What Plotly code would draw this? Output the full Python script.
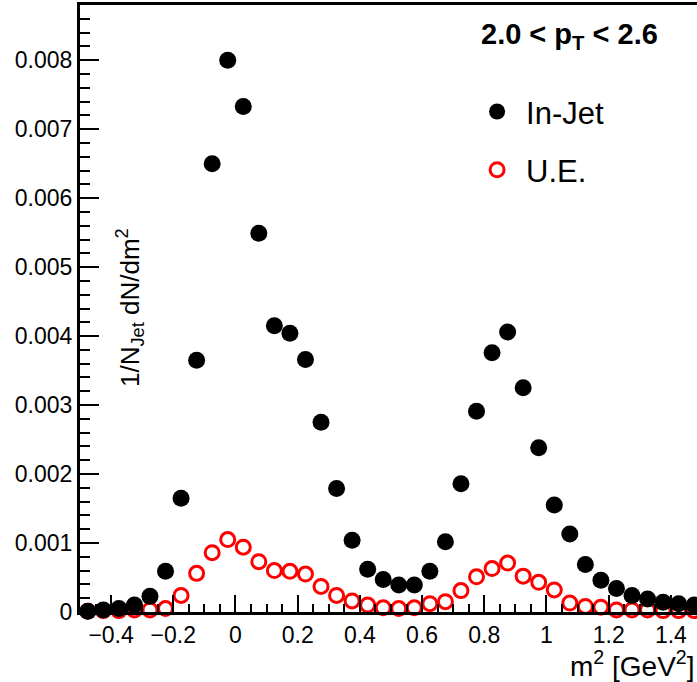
import plotly.graph_objects as go

# bin centres of m^2 [GeV^2]
m2 = [-0.475 + 0.05 * k for k in range(40)]

in_jet = [0.00001, 0.00003, 0.00005, 0.00010, 0.00023, 0.00059, 0.00165, 0.00365,
          0.00650, 0.00800, 0.00733, 0.00549, 0.00415, 0.00404, 0.00366, 0.00275,
          0.00179, 0.00104, 0.00062, 0.00047, 0.00039, 0.00039, 0.00059, 0.00102,
          0.00186, 0.00291, 0.00376, 0.00406, 0.00325, 0.00238, 0.00155, 0.00113,
          0.00069, 0.00046, 0.00034, 0.00024, 0.00019, 0.00014, 0.00012, 0.00010]

ue = [0.00001, 0.00002, 0.00002, 0.00003, 0.00003, 0.00005, 0.00024, 0.00056,
      0.00086, 0.00105, 0.00094, 0.00073, 0.00060, 0.00059, 0.00055, 0.00037,
      0.00024, 0.00016, 0.00010, 0.00006, 0.00005, 0.00006, 0.00012, 0.00015,
      0.00031, 0.00051, 0.00063, 0.00071, 0.00052, 0.00043, 0.00032, 0.00013,
      0.00008, 0.00007, 0.00003, 0.00003, 0.00003, 0.00002, 0.00002, 0.00002]

x_tickvals = [-0.4, -0.2, 0, 0.2, 0.4, 0.6, 0.8, 1.0, 1.2, 1.4]
x_ticktext = ["\u22120.4", "\u22120.2", "0", "0.2", "0.4", "0.6", "0.8", "1", "1.2", "1.4"]
y_tickvals = [0, 0.001, 0.002, 0.003, 0.004, 0.005, 0.006, 0.007, 0.008]
y_ticktext = ["0", "0.001", "0.002", "0.003", "0.004", "0.005", "0.006", "0.007", "0.008"]

FONT = "Liberation Sans, Arial, Helvetica, sans-serif"

fig = go.Figure()
fig.add_trace(go.Scatter(
    x=m2, y=ue, mode="markers", name="U.E.", legend="legend2",
    cliponaxis=False,
    marker=dict(symbol="circle-open", size=14, color="#ff0000",
                line=dict(width=3, color="#ff0000")),
))
fig.add_trace(go.Scatter(
    x=m2, y=in_jet, mode="markers", name="In-Jet", legend="legend",
    cliponaxis=False,
    marker=dict(symbol="circle", size=17, color="black"),
))

fig.update_layout(
    width=697, height=682,
    margin=dict(l=80, r=0, t=5, b=70),
    plot_bgcolor="white", paper_bgcolor="white",
    showlegend=True,
    font=dict(family=FONT, color="black", size=23),
    xaxis=dict(
        range=[-0.5, 1.484], showgrid=False, zeroline=False,
        showline=True, linewidth=3, linecolor="black", mirror=True,
        ticks="inside", ticklen=17, tickwidth=2, tickcolor="black",
        tickvals=x_tickvals, ticktext=x_ticktext,
        tickfont=dict(size=23, family=FONT),
        minor=dict(dtick=0.05, tick0=0, ticks="inside", ticklen=8,
                   tickwidth=2, tickcolor="black", showgrid=False),
    ),
    yaxis=dict(
        range=[0, 0.0088], showgrid=False, zeroline=False,
        showline=True, linewidth=3, linecolor="black", mirror=False,
        ticks="inside", ticklen=19, tickwidth=2, tickcolor="black",
        tickvals=y_tickvals, ticktext=y_ticktext,
        tickfont=dict(size=23, family=FONT),
        minor=dict(dtick=0.0002, tick0=0, ticks="inside", ticklen=10,
                   tickwidth=2, tickcolor="black", showgrid=False),
    ),
    legend=dict(x=0.629, y=0.824, xanchor="left", yanchor="middle",
                bgcolor="rgba(0,0,0,0)", borderwidth=0, itemwidth=48,
                font=dict(size=31, family=FONT), visible=True),
    legend2=dict(x=0.629, y=0.728, xanchor="left", yanchor="middle",
                 bgcolor="rgba(0,0,0,0)", borderwidth=0, itemwidth=48,
                 font=dict(size=31, family=FONT), visible=True),
    annotations=[
        dict(text="<b>2.0 &lt; p<sub>T</sub> &lt; 2.6</b>", xref="paper", yref="paper",
             x=0.794, y=0.949, xanchor="center", yanchor="middle", showarrow=False,
             font=dict(size=29, family=FONT)),
        dict(text="1/N<sub>Jet</sub> dN/dm<sup>2</sup>", xref="paper", yref="paper",
             x=0.081, y=0.5025, xanchor="center", yanchor="middle", showarrow=False,
             textangle=-90, font=dict(size=26, family=FONT)),
        dict(text="m<sup>2</sup> [GeV<sup>2</sup>]", xref="paper", yref="paper",
             x=1.0, y=-0.0857, xanchor="right", yanchor="middle", showarrow=False,
             font=dict(size=28, family=FONT)),
    ],
)

fig.write_html("out.html", config={"displayModeBar": False},
               post_script="document.body.style.margin='0px';document.body.style.overflow='hidden';")
